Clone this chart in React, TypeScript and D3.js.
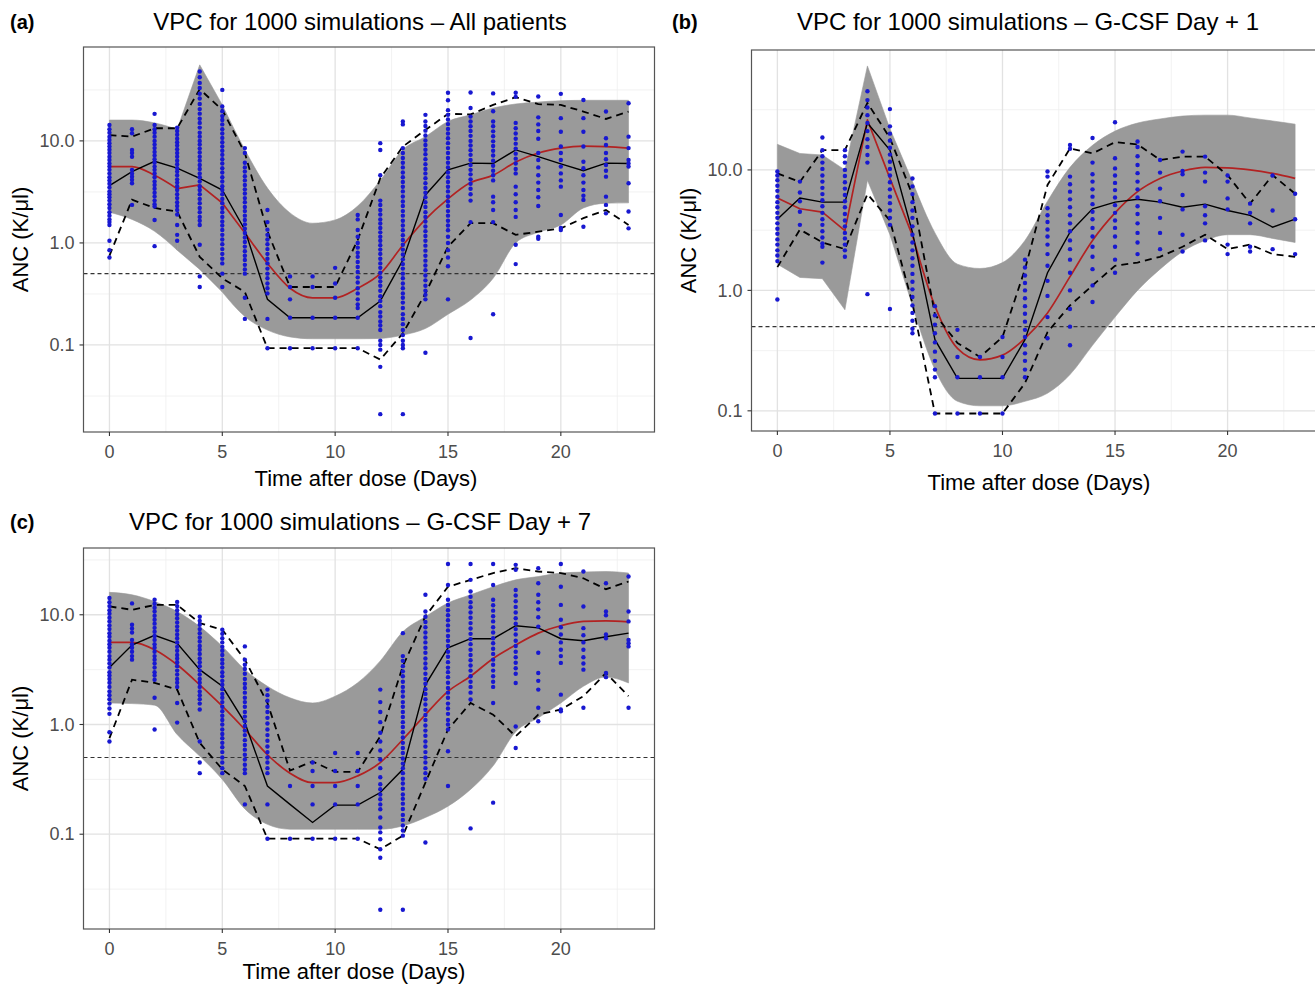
import React from "react";
import * as d3 from "d3";

const days = [0, 1, 2, 3, 4, 5, 6, 7, 8, 9, 10, 11, 12, 13, 14, 15, 16, 17, 18, 19, 20, 21, 22, 23];
const xTicks = [0, 5, 10, 15, 20];
const xMinor = [2.5, 7.5, 12.5, 17.5, 22.5];
const yTicks = [0.1, 1, 10];
const yTickLabels = ["0.1", "1.0", "10.0"];
const yMinor = [0.0316, 0.316, 3.16, 31.6];
const refLine = 0.5;

// ---------- Panel (a): All patients ----------
const bandLoA = [2.0, 1.7, 1.3, 0.85, 0.55, 0.33, 0.19, 0.14, 0.12, 0.115, 0.115, 0.115, 0.116, 0.125, 0.145, 0.2, 0.276, 0.45, 1.0, 1.27, 1.5, 2.2, 2.45, 2.47];
const bandHiA = [16, 16, 15, 13, 55.6, 22.5, 8.2, 3.45, 1.97, 1.56, 1.68, 2.3, 4.1, 8.2, 11, 15.5, 18, 21, 23, 24, 24.8, 25, 25, 25];
const simMedA = [5.6, 5.6, 4.6, 3.4, 3.7, 2.46, 1.25, 0.63, 0.36, 0.29, 0.29, 0.36, 0.5, 0.95, 1.7, 2.7, 3.9, 4.6, 6.2, 7.6, 8.5, 8.9, 8.8, 8.5];
const obsMedA = [3.65, 5.0, 6.3, 5.4, 4.3, 3.3, 1.34, 0.28, 0.185, 0.185, 0.185, 0.185, 0.27, 0.68, 2.95, 5.2, 6.05, 6.0, 8.15, 7.0, 5.95, 5.1, 6.05, 6.0];
const obsP95A = [11.4, 11, 13.3, 13.3, 32.1, 20.1, 7.6, 1.3, 0.37, 0.37, 0.37, 1.07, 4.3, 8.8, 12.8, 18.4, 18.2, 22.5, 26.8, 22.9, 22.5, 19.4, 16.4, 19.4];
const obsP05A = [0.75, 2.65, 2.2, 2.03, 0.73, 0.45, 0.33, 0.093, 0.093, 0.093, 0.093, 0.093, 0.072, 0.13, 0.32, 0.92, 1.56, 1.56, 1.2, 1.29, 1.39, 1.75, 2.1, 1.5];
const obsA: number[][] = [
  [14.3, 13, 12, 11, 10.2, 9.5, 8.8, 8.2, 7.6, 7, 6.5, 6, 5.6, 5.2, 4.8, 4.4, 4.1, 3.8, 3.5, 3.2, 3, 2.8, 2.6, 2.4, 2.2, 2, 1.85, 1.7, 1.6, 1.5, 1.05, 0.85, 0.72],
  [13, 11.9, 8.15, 7.6, 7.0, 5.2, 4.8, 4.46, 4.15, 3.84, 2.36],
  [18.4, 14.3, 13, 12, 11, 10, 9.2, 8.5, 7.8, 7.2, 6.6, 6.1, 5.6, 5.2, 4.8, 4.4, 4, 3.7, 3.4, 3.1, 2.85, 2.6, 2.4, 2.27, 1.68, 0.93],
  [13.5, 12.5, 11.5, 10.5, 9.7, 9, 8.3, 7.6, 7, 6.4, 5.9, 5.4, 5, 4.6, 4.2, 3.9, 3.6, 3.3, 3, 2.75, 2.5, 2.3, 2.1, 1.9, 1.5, 1.2, 1.05],
  [47.8, 42, 37, 33, 29, 26, 23, 20.5, 18.5, 16.5, 15, 13.5, 12, 11, 10, 9.2, 8.4, 7.7, 7, 6.4, 5.8, 5.3, 4.8, 4.4, 4, 3.6, 3.3, 3, 2.7, 2.45, 2.2, 2, 1.8, 1.65, 1.5, 0.96, 0.47, 0.37],
  [31.6, 21.7, 19.5, 17.5, 16, 14.5, 13, 11.8, 10.7, 9.7, 8.8, 8, 7.3, 6.6, 6, 5.4, 4.9, 4.4, 4, 3.6, 3.3, 3, 2.7, 2.45, 2.2, 2, 1.8, 1.62, 1.48, 1.34, 1.2, 1.08, 0.97, 0.87, 0.78, 0.7, 0.63, 0.5, 0.37],
  [8.5, 7.6, 6.1, 5.5, 5, 4.5, 4.1, 3.7, 3.35, 3.05, 2.75, 2.5, 2.25, 2.05, 1.85, 1.68, 1.52, 1.38, 1.25, 1.13, 1.02, 0.92, 0.83, 0.75, 0.68, 0.61, 0.55, 0.5, 0.29, 0.18],
  [2.1, 1.6, 1.35, 1.2, 1.08, 0.97, 0.87, 0.78, 0.7, 0.63, 0.56, 0.5, 0.45, 0.4, 0.36, 0.32, 0.18, 0.093],
  [0.47, 0.37, 0.28, 0.185, 0.093],
  [0.47, 0.37, 0.185, 0.093],
  [0.57, 0.4, 0.29, 0.185, 0.093],
  [1.88, 1.7, 1.34, 1.15, 1.0, 0.9, 0.8, 0.73, 0.65, 0.58, 0.52, 0.46, 0.41, 0.36, 0.32, 0.28, 0.25, 0.23, 0.185, 0.093],
  [9.5, 8.15, 4.6, 2.6, 2.35, 2.1, 1.9, 1.7, 1.55, 1.4, 1.27, 1.15, 1.05, 0.95, 0.86, 0.78, 0.7, 0.63, 0.57, 0.51, 0.46, 0.42, 0.38, 0.34, 0.3, 0.27, 0.24, 0.21, 0.19, 0.17, 0.155, 0.14, 0.11, 0.1, 0.09, 0.061, 0.021],
  [15.5, 14.5, 8.5, 7.6, 6.8, 6.1, 5.5, 4.9, 4.4, 3.95, 3.55, 3.2, 2.85, 2.55, 2.3, 2.05, 1.85, 1.65, 1.48, 1.33, 1.19, 1.07, 0.96, 0.86, 0.77, 0.69, 0.62, 0.56, 0.5, 0.45, 0.4, 0.36, 0.32, 0.29, 0.26, 0.23, 0.2, 0.18, 0.16, 0.14, 0.125, 0.11, 0.1, 0.093, 0.021],
  [18, 15.5, 14, 12.6, 11.3, 10.1, 9.1, 8.2, 7.4, 6.6, 5.9, 5.3, 4.8, 4.3, 3.85, 3.45, 3.1, 2.8, 2.5, 2.25, 2, 1.8, 1.62, 1.45, 1.3, 1.17, 1.05, 0.94, 0.84, 0.75, 0.67, 0.6, 0.54, 0.48, 0.43, 0.38, 0.34, 0.31, 0.28, 0.084],
  [29.6, 25, 20, 18, 16.2, 14.6, 13.1, 11.8, 10.6, 9.5, 8.5, 7.6, 6.8, 6.1, 5.5, 4.9, 4.4, 3.95, 3.55, 3.2, 2.85, 2.55, 2.3, 2.05, 1.85, 1.65, 1.48, 1.33, 1.15, 1.0, 0.85, 0.72, 0.59, 0.28],
  [29.8, 21, 17.3, 15.5, 13.9, 12.5, 11.2, 10, 9, 8.1, 7.3, 6.5, 5.8, 5.2, 4.7, 4.2, 3.8, 3.4, 3, 2.6, 1.6, 0.117],
  [29.2, 19.5, 15.5, 13.9, 12.4, 11.1, 9.9, 8.9, 8, 7.2, 6.4, 5.7, 5.1, 4.6, 4.1, 2.84, 2.5, 2.1, 1.6, 0.2],
  [29.6, 27, 15, 13.3, 11.8, 10.5, 9.4, 8.4, 7.5, 6.7, 6, 5.3, 4.8, 3.56, 3, 2.5, 2.1, 1.8, 0.96, 0.62],
  [27.2, 17, 14.5, 12.5, 10.5, 7.6, 6.5, 5.5, 4.6, 3.9, 3.3, 2.8, 2.3, 1.15, 1.1],
  [28.9, 16.7, 12.3, 8.8, 7.6, 6.5, 5.6, 4.8, 4.1, 3.56, 1.88, 1.4, 1.34],
  [25.2, 16.7, 12.3, 8.8, 6.25, 5.4, 4.6, 3.9, 3.3, 2.9, 2.64, 1.44],
  [19.4, 10.6, 9.1, 7.6, 6.6, 5.8, 5.1, 4.46, 2.84, 2.36, 1.95],
  [23.4, 11, 8.5, 6.5, 6, 5.6, 3.84, 2.03, 1.39],
];

// ---------- Panel (b): G-CSF Day + 1 ----------
const bandLoB = [1.65, 1.28, 1.25, 0.69, 8.2, 2.9, 0.75, 0.22, 0.12, 0.11, 0.11, 0.12, 0.14, 0.2, 0.35, 0.6, 1.0, 1.5, 2.1, 2.6, 2.9, 2.9, 2.7, 2.5];
const bandHiB = [16.3, 13.7, 13.3, 10, 73, 22, 8, 3.0, 1.65, 1.52, 1.7, 2.6, 5.5, 10.5, 16, 21, 24.5, 26.5, 28, 28.5, 28.5, 27, 25.5, 24];
const simMedB = [5.85, 4.76, 4.47, 3.13, 26, 8.5, 2.85, 0.74, 0.33, 0.265, 0.29, 0.4, 0.65, 1.3, 2.6, 4.4, 6.6, 8.5, 9.8, 10.5, 10.4, 10, 9.35, 8.5];
const obsMedB = [3.9, 5.85, 5.4, 5.4, 24.5, 14.6, 3.04, 0.39, 0.186, 0.186, 0.186, 0.39, 1.4, 3.04, 4.76, 5.4, 5.7, 5.4, 4.9, 5.2, 4.6, 4.2, 3.35, 3.9];
const obsP95B = [9.35, 7.95, 14.6, 14.6, 36, 18.4, 6.2, 0.63, 0.366, 0.28, 0.41, 1.5, 7.5, 15.1, 13.7, 17, 16.3, 12.1, 12.9, 12.9, 9.05, 5.25, 9.05, 6.35];
const obsP05B = [1.56, 3.2, 2.5, 2.2, 6.3, 3.8, 0.78, 0.095, 0.095, 0.095, 0.095, 0.17, 0.45, 0.75, 1.1, 1.6, 1.7, 1.9, 2.3, 2.9, 2.2, 2.4, 2.0, 1.9];
const obsB: number[][] = [
  [9.7, 9, 8.2, 7.4, 6.7, 6, 5.4, 4.9, 4.4, 4, 3.6, 3.25, 2.95, 2.65, 2.4, 2.15, 1.95, 1.75, 0.84],
  [8, 6.5, 5.5, 4.5, 3.5],
  [18.6, 14.6, 13, 11.5, 10.2, 9, 8, 7.1, 6.3, 5.6, 5, 4.4, 3.9, 3.5, 3.1, 2.75, 2.45, 2.3, 1.7],
  [14.6, 13, 11.5, 10, 8.9, 7.9, 7, 6.2, 5.5, 4.9, 4.3, 3.8, 3.4, 3, 2.7, 2.4, 2.15, 1.9],
  [45, 38, 33, 28.5, 24.5, 21, 18, 15.5, 13.3, 11.5, 0.93],
  [32, 23, 20, 17.5, 15.3, 13.4, 11.7, 10.2, 9, 7.9, 6.9, 6, 5.3, 4.6, 4, 3.5, 0.7],
  [8.5, 7.3, 6.3, 5.4, 4.6, 4, 3.4, 2.9, 2.5, 2.15, 1.85, 1.6, 1.37, 1.18, 1.02, 0.88, 0.75, 0.65, 0.56, 0.48, 0.44],
  [0.74, 0.62, 0.52, 0.44, 0.37, 0.31, 0.26, 0.22, 0.19, 0.095],
  [0.47, 0.28, 0.19, 0.095],
  [0.28, 0.19, 0.095],
  [0.41, 0.28, 0.19, 0.095],
  [1.8, 1.55, 1.33, 1.15, 1, 0.86, 0.74, 0.64, 0.55, 0.47, 0.41, 0.35, 0.3, 0.26, 0.22, 0.19],
  [9.7, 8.8, 4.8, 4.2, 3.7, 3.2, 2.8, 2.4, 2.0, 1.6, 1.2, 0.9, 0.6, 0.4],
  [16.1, 15, 8.8, 7.6, 6.6, 5.7, 4.9, 4.2, 3.6, 3.1, 2.6, 2.2, 1.8, 1.4, 1.0, 0.7, 0.5, 0.35],
  [18.4, 11.5, 9.2, 8, 6.9, 6, 5.2, 4.5, 3.9, 3.3, 2.8, 2.3, 1.9, 1.5, 1.1, 0.8],
  [24.9, 12.5, 10.3, 9, 7.8, 6.8, 5.9, 5.1, 4.4, 3.8, 3.3, 2.8, 2.3, 1.8, 1.4],
  [17.2, 15.5, 13, 11, 9.4, 8, 6.9, 5.9, 5, 4.3, 3.6, 3, 2.5, 2],
  [12.1, 9.5, 7, 5.5, 4, 3, 2.2],
  [14.2, 9.8, 9.2, 6.2, 4.7, 2.9, 2.1],
  [12.9, 9.5, 8, 5, 4.2, 3.6, 2.6],
  [9, 8, 5.8, 4.7, 2.4, 2.0],
  [5.25, 4.4, 3.6, 2.3, 2.1],
  [9, 4.6, 2.2],
  [6.35, 3.9, 2.0],
];

// ---------- Panel (c): G-CSF Day + 7 ----------
const bandLoC = [1.57, 1.55, 1.5, 0.81, 0.515, 0.316, 0.17, 0.123, 0.111, 0.111, 0.111, 0.111, 0.111, 0.119, 0.142, 0.18, 0.256, 0.42, 0.86, 1.15, 1.57, 2.23, 2.71, 2.39];
const bandHiC = [16, 15.2, 13.2, 10.7, 7.8, 5.15, 3.16, 2.23, 1.75, 1.57, 1.81, 2.4, 3.8, 7, 9.6, 12.8, 15.2, 18, 20.8, 22.3, 24, 24.5, 24.8, 24];
const simMedC = [5.6, 5.6, 4.8, 3.5, 2.3, 1.47, 0.9, 0.53, 0.36, 0.295, 0.295, 0.34, 0.45, 0.73, 1.23, 2.0, 2.75, 4.0, 5.3, 6.8, 7.95, 8.7, 8.8, 8.6];
const obsMedC = [3.3, 5.3, 6.5, 5.5, 3.16, 2.23, 1.04, 0.275, 0.187, 0.128, 0.184, 0.184, 0.24, 0.39, 2.3, 5.0, 6.05, 6.05, 7.95, 7.6, 6.05, 5.8, 6.3, 6.8];
const obsP95C = [11.9, 11.1, 12.3, 12.3, 8.4, 7.3, 3.9, 1.57, 0.38, 0.46, 0.37, 0.37, 0.78, 3.4, 9.7, 18, 20.8, 24, 26.6, 24.8, 24, 21.5, 17.1, 20.1];
const obsP05C = [0.75, 2.56, 2.4, 2.08, 0.68, 0.39, 0.275, 0.091, 0.091, 0.091, 0.091, 0.091, 0.073, 0.097, 0.295, 0.9, 1.57, 1.23, 0.78, 1.23, 1.37, 1.81, 2.95, 1.81];
const obsC: number[][] = [
  [14.2, 13, 12, 11, 10.2, 9.4, 8.7, 8, 7.4, 6.8, 6.3, 5.8, 5.4, 5, 4.6, 4.2, 3.9, 3.6, 3.3, 3, 2.8, 2.6, 2.4, 2.2, 2, 1.85, 1.7, 1.55, 1.4, 1.25, 0.85, 0.7],
  [12.7, 8.1, 7.5, 6.9, 5.9, 5.4, 5, 4.6, 4.2, 3.9],
  [13.7, 12.6, 11.6, 10.7, 9.8, 9, 8.3, 7.6, 7, 6.4, 5.9, 5.4, 5, 4.6, 4.2, 3.9, 3.6, 3.3, 3, 2.8, 2.56, 1.75, 0.9],
  [13.1, 12, 11, 10.1, 9.3, 8.5, 7.8, 7.2, 6.6, 6.1, 5.6, 5.1, 4.7, 4.3, 4, 3.7, 3.4, 3.1, 2.85, 2.6, 2.4, 2.2, 1.57, 1.04],
  [9.6, 8.8, 8.1, 7.4, 6.8, 6.2, 5.7, 5.2, 4.8, 4.4, 4, 3.7, 3.4, 3.1, 2.85, 2.6, 2.4, 2.2, 2, 1.85, 1.7, 1.55, 1.37, 0.7, 0.45, 0.36],
  [7.3, 6.7, 6.1, 5.6, 5.1, 4.7, 4.3, 3.9, 3.6, 3.3, 3, 2.75, 2.5, 2.3, 2.1, 1.9, 1.75, 1.6, 1.45, 1.32, 1.2, 1.1, 1, 0.9, 0.82, 0.75, 0.68, 0.62, 0.56, 0.5, 0.45, 0.4, 0.36],
  [5.15, 3.9, 3.5, 3.2, 2.9, 2.6, 2.35, 2.15, 1.95, 1.75, 1.6, 1.45, 1.3, 1.18, 1.07, 0.97, 0.88, 0.8, 0.72, 0.65, 0.59, 0.53, 0.48, 0.43, 0.39, 0.36, 0.187],
  [2.08, 1.85, 1.65, 1.45, 1.3, 1.15, 1.02, 0.9, 0.8, 0.71, 0.63, 0.56, 0.5, 0.45, 0.4, 0.36, 0.187, 0.091],
  [0.275, 0.091],
  [0.45, 0.377, 0.275, 0.187, 0.091],
  [0.55, 0.377, 0.275, 0.187, 0.091],
  [0.55, 0.377, 0.275, 0.187, 0.091],
  [2.08, 1.6, 1.3, 1.05, 0.84, 0.7, 0.58, 0.48, 0.4, 0.33, 0.285, 0.257, 0.23, 0.208, 0.187, 0.169, 0.142, 0.115, 0.104, 0.09, 0.073, 0.061, 0.0205],
  [6.8, 4.2, 3.8, 3.4, 3.05, 2.75, 2.45, 2.2, 2, 1.8, 1.6, 1.45, 1.3, 1.17, 1.05, 0.95, 0.85, 0.76, 0.68, 0.61, 0.55, 0.49, 0.44, 0.4, 0.36, 0.32, 0.29, 0.26, 0.23, 0.21, 0.19, 0.17, 0.15, 0.135, 0.12, 0.108, 0.097, 0.0205],
  [15.2, 10.7, 9.6, 8.6, 7.7, 6.9, 6.2, 5.6, 5, 4.5, 4, 3.6, 3.25, 2.9, 2.6, 2.35, 2.1, 1.9, 1.7, 1.52, 1.36, 1.22, 1.1, 0.98, 0.88, 0.79, 0.7, 0.63, 0.56, 0.5, 0.45, 0.4, 0.36, 0.32, 0.084],
  [29, 18.7, 13.7, 12.3, 11, 9.9, 8.9, 8, 7.2, 6.4, 5.8, 5.2, 4.6, 4.15, 3.7, 3.3, 3, 2.7, 2.4, 2.15, 1.95, 1.75, 1.55, 1.4, 1.25, 1.1, 1.0, 0.9, 0.57, 0.275],
  [29, 20.8, 16.3, 14.6, 13, 11.7, 10.5, 9.4, 8.4, 7.5, 6.7, 6, 5.4, 4.8, 4.3, 3.85, 3.45, 3.1, 2.75, 2.45, 2.2, 1.95, 1.69, 0.113],
  [29, 18.7, 13.7, 12.2, 10.9, 9.7, 8.7, 7.7, 6.9, 6.1, 5.5, 4.9, 4.4, 3.9, 3.5, 3.1, 2.75, 2.45, 2.2, 1.57, 0.194],
  [28.5, 25.7, 16.8, 15, 13.3, 11.8, 10.5, 9.3, 8.3, 7.4, 6.6, 5.8, 5.2, 4.6, 4.1, 3.65, 3.25, 2.9, 2.39, 0.96, 0.61],
  [26.6, 19.4, 15.2, 13, 11.2, 9.5, 7.8, 4.5, 2.95, 2.5, 2.08, 1.42, 1.07],
  [29, 18, 12.3, 9, 7.7, 6.6, 5.6, 4.8, 4.2, 3.64, 1.87, 1.37, 1.32],
  [24.8, 11.9, 7.55, 6.5, 5.6, 4.8, 4.1, 3.6, 3.16, 1.42],
  [19.4, 10.7, 9.9, 6.6, 6.1, 2.95, 2.7],
  [22.3, 10.7, 8.7, 5.9, 5.5, 5.15, 1.42],
];

type Series = { lo: number[]; hi: number[]; sim: number[]; med: number[]; p05: number[]; p95: number[]; obs: number[][] };

const seriesA: Series = { lo: bandLoA, hi: bandHiA, sim: simMedA, med: obsMedA, p05: obsP05A, p95: obsP95A, obs: obsA };
const seriesB: Series = { lo: bandLoB, hi: bandHiB, sim: simMedB, med: obsMedB, p05: obsP05B, p95: obsP95B, obs: obsB };
const seriesC: Series = { lo: bandLoC, hi: bandHiC, sim: simMedC, med: obsMedC, p05: obsP05C, p95: obsP95C, obs: obsC };

const FONT = "'Liberation Sans', Arial, Helvetica, sans-serif";
const BAND = "#9a9a9a";

// pieces of the day axis: [startIndex, endIndex, smooth?]
type Piece = [number, number, boolean];

type Layout = {
  id: string;
  left: number; right: number; top: number; bottom: number;
  yDom: [number, number];
  pieces: Piece[];
  title: string; titleX: number; titleY: number;
  tag: string; tagX: number; tagY: number;
  xTitleX: number; xTitleY: number;
  yTitleX: number;
};

function Panel({ L, S }: { L: Layout; S: Series }) {
  const x = d3.scaleLinear().domain([-1.15, 24.15]).range([L.left, L.right]);
  const y = d3.scaleLog().domain(L.yDom).range([L.bottom, L.top]);
  const idx = days.map((_, i) => i);
  const areaFor = (smooth: boolean) =>
    d3
      .area<number>()
      .x((i) => x(days[i]))
      .y0((i) => y(S.lo[i]))
      .y1((i) => y(S.hi[i]))
      .curve(smooth ? d3.curveMonotoneX : d3.curveLinear);
  const lineFor = (vals: number[], smooth: boolean) =>
    d3
      .line<number>()
      .x((i) => x(days[i]))
      .y((i) => y(vals[i]))
      .curve(smooth ? d3.curveMonotoneX : d3.curveLinear);
  const line = d3
    .line<number>()
    .x((_, i) => x(days[i]))
    .y((v) => y(v));
  const inY = (v: number) => v >= L.yDom[0] && v <= L.yDom[1];
  const inX = (v: number) => x(v) >= L.left && x(v) <= L.right;
  const clipId = `clip-${L.id}`;
  const yMid = (L.top + L.bottom) / 2;
  const bandPaths = L.pieces.map(([a, b, s]) => areaFor(s)(idx.slice(a, b + 1)) || "");
  const simPath = L.pieces.map(([a, b, s]) => lineFor(S.sim, s)(idx.slice(a, b + 1)) || "").join(" ");
  return (
    <g>
      <defs>
        <clipPath id={clipId}>
          <rect x={L.left} y={L.top} width={L.right - L.left} height={L.bottom - L.top} />
        </clipPath>
      </defs>
      <rect x={L.left} y={L.top} width={L.right - L.left} height={L.bottom - L.top} fill="#ffffff" />
      <g clipPath={`url(#${clipId})`}>
        {yMinor.filter(inY).map((v) => (
          <line key={`ym${v}`} x1={L.left} x2={L.right} y1={y(v)} y2={y(v)} stroke="#efefef" strokeWidth={0.8} />
        ))}
        {xMinor.map((v) => (
          <line key={`xm${v}`} x1={x(v)} x2={x(v)} y1={L.top} y2={L.bottom} stroke="#efefef" strokeWidth={0.8} />
        ))}
        {yTicks.map((v) => (
          <line key={`yg${v}`} x1={L.left} x2={L.right} y1={y(v)} y2={y(v)} stroke="#e2e2e2" strokeWidth={1.3} />
        ))}
        {xTicks.map((v) => (
          <line key={`xg${v}`} x1={x(v)} x2={x(v)} y1={L.top} y2={L.bottom} stroke="#e2e2e2" strokeWidth={1.3} />
        ))}
        {bandPaths.map((d, k) => (
          <path key={`band${k}`} d={d} fill={BAND} stroke={BAND} strokeWidth={0.6} />
        ))}
        <line x1={L.left} x2={L.right} y1={y(refLine)} y2={y(refLine)} stroke="#333" strokeWidth={1.2} strokeDasharray="4,3" />
        <path d={simPath} fill="none" stroke="#b22222" strokeWidth={1.7} strokeLinejoin="round" />
        <path d={line(S.med) || ""} fill="none" stroke="#000" strokeWidth={1.4} />
        <path d={line(S.p95) || ""} fill="none" stroke="#000" strokeWidth={1.8} strokeDasharray="7,5" />
        <path d={line(S.p05) || ""} fill="none" stroke="#000" strokeWidth={1.8} strokeDasharray="7,5" />
        {S.obs.map((vals, i) =>
          vals.map((v, j) => <circle key={`p${i}-${j}`} cx={x(days[i])} cy={y(v)} r={2.2} fill="#1818d0" />)
        )}
      </g>
      <rect x={L.left} y={L.top} width={L.right - L.left} height={L.bottom - L.top} fill="none" stroke="#555" strokeWidth={1.2} />
      {xTicks.filter(inX).map((v) => (
        <g key={`xt${v}`}>
          <line x1={x(v)} x2={x(v)} y1={L.bottom} y2={L.bottom + 4} stroke="#333" strokeWidth={1.1} />
          <text x={x(v)} y={L.bottom + 25.5} textAnchor="middle" fontSize={18} fill="#4d4d4d" fontFamily={FONT}>
            {v}
          </text>
        </g>
      ))}
      {yTicks.map((v, i) => (
        <g key={`yt${v}`}>
          <line x1={L.left - 4} x2={L.left} y1={y(v)} y2={y(v)} stroke="#333" strokeWidth={1.1} />
          <text x={L.left - 9} y={y(v) + 6.2} textAnchor="end" fontSize={18} fill="#4d4d4d" fontFamily={FONT}>
            {yTickLabels[i]}
          </text>
        </g>
      ))}
      <text x={L.xTitleX} y={L.xTitleY} textAnchor="middle" fontSize={22} fill="#000" fontFamily={FONT}>
        Time after dose (Days)
      </text>
      <text
        transform={`translate(${L.yTitleX},${yMid}) rotate(-90)`}
        textAnchor="middle"
        fontSize={22}
        fill="#000"
        fontFamily={FONT}
      >
        ANC (K/μl)
      </text>
      <text x={L.titleX} y={L.titleY} textAnchor="middle" fontSize={24} fill="#000" fontFamily={FONT}>
        {L.title}
      </text>
      <text x={L.tagX} y={L.tagY} fontSize={20} fontWeight="bold" fill="#000" fontFamily={FONT}>
        {L.tag}
      </text>
    </g>
  );
}

const layoutA: Layout = {
  id: "a", left: 83.5, right: 654.5, top: 47, bottom: 432,
  yDom: [0.01403, 83.2],
  pieces: [[0, 3, true], [3, 5, false], [5, 23, true]],
  title: "VPC for 1000 simulations – All patients", titleX: 360, titleY: 30,
  tag: "(a)", tagX: 10, tagY: 29,
  xTitleX: 366, xTitleY: 486, yTitleX: 28,
};
const layoutB: Layout = {
  id: "b", left: 751.5, right: 1321, top: 50, bottom: 431,
  yDom: [0.068, 99],
  pieces: [[0, 6, false], [6, 23, true]],
  title: "VPC for 1000 simulations – G-CSF Day + 1", titleX: 1028, titleY: 30,
  tag: "(b)", tagX: 672, tagY: 29,
  xTitleX: 1039, xTitleY: 490, yTitleX: 696,
};
const layoutC: Layout = {
  id: "c", left: 83.5, right: 654.5, top: 548, bottom: 929,
  yDom: [0.01368, 40.6],
  pieces: [[0, 23, true]],
  title: "VPC for 1000 simulations – G-CSF Day + 7", titleX: 360, titleY: 530,
  tag: "(c)", tagX: 10, tagY: 529,
  xTitleX: 354, xTitleY: 979, yTitleX: 28,
};

export default function App() {
  return (
    <svg
      width={1315}
      height={985}
      viewBox="0 0 1315 985"
      style={{ position: "absolute", left: 0, top: 0, background: "#fff" }}
    >
      <rect x={0} y={0} width={1315} height={985} fill="#fff" />
      <Panel L={layoutA} S={seriesA} />
      <Panel L={layoutB} S={seriesB} />
      <Panel L={layoutC} S={seriesC} />
    </svg>
  );
}
